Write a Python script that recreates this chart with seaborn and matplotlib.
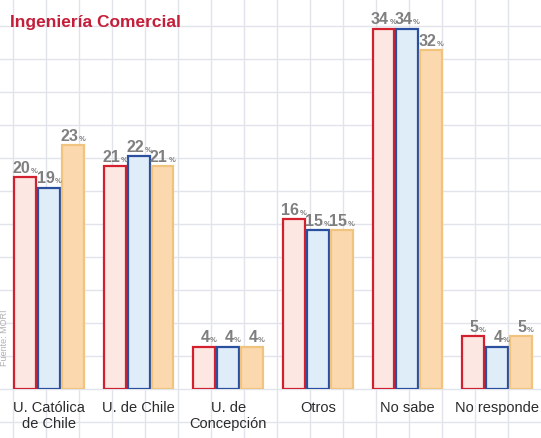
import pandas as pd
import numpy as np
import matplotlib
matplotlib.use('Agg')
import matplotlib.pyplot as plt
import seaborn as sns

# Data
categories = ['U. Católica\nde Chile', 'U. de Chile', 'U. de\nConcepción', 'Otros', 'No sabe', 'No responde']
series = ['A', 'B', 'C']
values_a = [20, 21, 4, 16, 34, 5]
values_b = [19, 22, 4, 15, 34, 4]
values_c = [23, 21, 4, 15, 32, 5]

rows = []
for s, vals in zip(series, [values_a, values_b, values_c]):
    for c, v in zip(categories, vals):
        rows.append({'cat': c, 'serie': s, 'valor': v})
df = pd.DataFrame(rows)

fills = ['#fde7e3', '#dfedf9', '#fbd8ad']
edges = ['#d2202f', '#2a4f9e', '#f0c47e']

sns.set_style('white')
plt.rcParams['font.family'] = ['Liberation Sans', 'DejaVu Sans']

W, H = 541, 439
fig = plt.figure(figsize=(W / 100, H / 100), dpi=100)

# graph paper background
bg = fig.add_axes([0, 0, 1, 1])
bg.set_xlim(0, W)
bg.set_ylim(H, 0)
bg.set_xticks(np.arange(13, W, 33))
bg.set_yticks(np.arange(27, H, 33))
bg.grid(True, color='#e1e5eb', linewidth=1)
bg.tick_params(length=0, labelbottom=False, labelleft=False)
for sp in bg.spines.values():
    sp.set_visible(False)

# main axes: y=0 at pixel 390, 10.6 px per percent
base = 390
ppu = 10.6
ax = fig.add_axes([0, (H - base) / H, 1, base / H])
ax.patch.set_alpha(0)
sns.barplot(data=df, x='cat', y='valor', hue='serie', order=categories,
            hue_order=series, width=0.8, gap=0.08, legend=False, ax=ax)
ax.set_ylim(0, base / ppu)
step = 89.6
ax.set_xlim(-49 / step, (W - 49) / step)
ax.set_xlabel('')
ax.set_ylabel('')
ax.set_yticks([])
ax.tick_params(axis='x', length=0, pad=8, labelsize=10.5, labelcolor='#2b2b2b')
for sp in ax.spines.values():
    sp.set_visible(False)

for i, cont in enumerate(ax.containers):
    for bar, v in zip(cont, [values_a, values_b, values_c][i]):
        bar.set_facecolor(fills[i])
        bar.set_edgecolor(edges[i])
        bar.set_linewidth(1.6)
        cx = bar.get_x() + bar.get_width() / 2
        ax.text(cx + 0.06, v + 0.2, str(v), ha='right', va='bottom',
                fontsize=11.5, fontweight='bold', color='#7f7f7f')
        ax.text(cx + 0.065, v + 0.3, '%', ha='left', va='bottom',
                fontsize=5.5, fontweight='bold', color='#7f7f7f')

fig.text(10 / W, 1 - 22 / H, 'Ingeniería Comercial', ha='left', va='center',
         fontsize=12.5, fontweight='bold', color='#c41e3a')
fig.text(5 / W, 1 - 338 / H, 'Fuente: MORI', rotation=90, ha='center', va='center',
         fontsize=6.5, color='#b0b0b0')

fig.savefig('out.png', dpi=100)
